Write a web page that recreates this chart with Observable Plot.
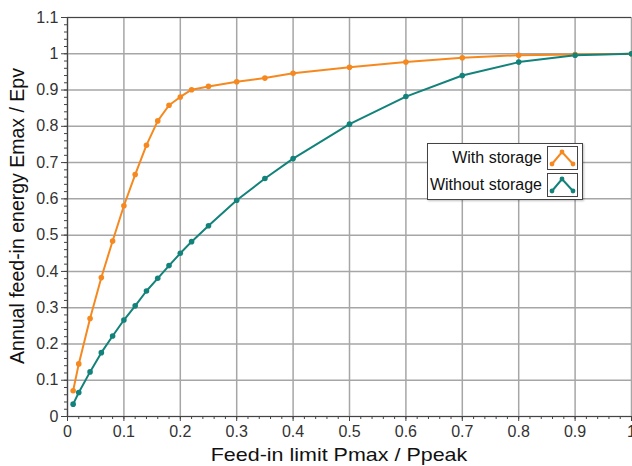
<!DOCTYPE html>
<html>
<head>
<meta charset="utf-8">
<script src="https://cdn.jsdelivr.net/npm/d3@7"></script>
<script src="https://cdn.jsdelivr.net/npm/@observablehq/plot@0.6"></script>
<style>
  html, body { margin: 0; padding: 0; background: #fff; }
  #wrap { position: relative; width: 632px; height: 466px; font-family: "Liberation Sans", Arial, sans-serif; }
  .lbl { position: absolute; color: #111; white-space: nowrap; }
  #legend { position: absolute; left: 427px; top: 143px; width: 156px; height: 57px; background: #fff;
            border: 1px solid #444; box-shadow: 1px 1px 2px rgba(0,0,0,0.25); box-sizing: border-box; }
  .row { position: absolute; right: 4px; height: 24px; display: flex; align-items: center; gap: 5px; font-size: 16px; color: #111; }
  .sw { width: 31px; height: 24px; border: 1px solid #444; box-sizing: border-box; }
</style>
</head>
<body>
<div id="wrap"></div>
<script>
const seriesNames = ["With storage", "Without storage"];
const seriesColors = ["#F5891F", "#13827A"];

const xWith = [0.01, 0.02, 0.04, 0.06, 0.08, 0.10, 0.12, 0.14, 0.16, 0.18, 0.20, 0.22, 0.25, 0.30, 0.35, 0.40, 0.50, 0.60, 0.70, 0.80, 0.90, 1.00];
const yWith = [0.071, 0.145, 0.270, 0.383, 0.484, 0.581, 0.667, 0.748, 0.815, 0.858, 0.881, 0.901, 0.910, 0.923, 0.933, 0.946, 0.963, 0.977, 0.989, 0.996, 0.998, 1.000];

const xWithout = [0.01, 0.02, 0.04, 0.06, 0.08, 0.10, 0.12, 0.14, 0.16, 0.18, 0.20, 0.22, 0.25, 0.30, 0.35, 0.40, 0.50, 0.60, 0.70, 0.80, 0.90, 1.00];
const yWithout = [0.034, 0.066, 0.123, 0.176, 0.222, 0.266, 0.305, 0.346, 0.381, 0.416, 0.450, 0.482, 0.526, 0.596, 0.656, 0.711, 0.806, 0.882, 0.940, 0.977, 0.996, 1.000];

const xTicks = [0, 0.1, 0.2, 0.3, 0.4, 0.5, 0.6, 0.7, 0.8, 0.9, 1];
const xTickLabels = ["0", "0.1", "0.2", "0.3", "0.4", "0.5", "0.6", "0.7", "0.8", "0.9", "1"];
const yTicks = [0, 0.1, 0.2, 0.3, 0.4, 0.5, 0.6, 0.7, 0.8, 0.9, 1, 1.1];
const yTickLabels = ["0", "0.1", "0.2", "0.3", "0.4", "0.5", "0.6", "0.7", "0.8", "0.9", "1", "1.1"];
const xMinor = d3.range(0, 51).map(i => i / 50);
const yMinor = d3.range(0, 56).map(i => i / 50);

const xLabel = "Feed-in limit Pmax / Ppeak";
const yLabel = "Annual feed-in energy Emax / Epv";

const data = [
  ...xWith.map((x, i) => ({x, y: yWith[i], s: seriesNames[0]})),
  ...xWithout.map((x, i) => ({x, y: yWithout[i], s: seriesNames[1]}))
];

const fmtX = d => xTickLabels[xTicks.indexOf(d)];
const fmtY = d => yTickLabels[yTicks.indexOf(d)];

const chart = Plot.plot({
  width: 632,
  height: 466,
  marginLeft: 67,
  marginRight: 1,
  marginTop: 17,
  marginBottom: 50,
  style: {fontFamily: "Liberation Sans, Arial, sans-serif", background: "#fff"},
  x: {domain: [0, 1]},
  y: {domain: [0, 1.1]},
  color: {domain: seriesNames, range: seriesColors},
  marks: [
    Plot.gridX(xTicks, {stroke: "#a6a6a6", strokeOpacity: 1, strokeWidth: 1.5}),
    Plot.gridY(yTicks, {stroke: "#a6a6a6", strokeOpacity: 1, strokeWidth: 1.5}),
    Plot.ruleY([1.1], {stroke: "#444", strokeWidth: 1.2}),
    Plot.ruleX([0], {stroke: "#444", strokeWidth: 1.2}),
    Plot.ruleY([0], {stroke: "#444", strokeWidth: 1.2}),
    Plot.axisX(xMinor, {tickSize: 3, tickFormat: () => "", label: null, stroke: "#444"}),
    Plot.axisY(yMinor, {tickSize: 3, tickFormat: () => "", label: null, stroke: "#444"}),
    Plot.axisX(xTicks, {tickSize: 5, tickPadding: 4, tickFormat: fmtX, fontSize: 16, fill: "#333", stroke: "#444", label: null}),
    Plot.axisY(yTicks, {tickSize: 6, tickPadding: 3, tickFormat: fmtY, fontSize: 16, fill: "#333", stroke: "#444", label: null}),
    Plot.line(data, {x: "x", y: "y", stroke: "s", z: "s", strokeWidth: 2}),
    Plot.dot(data, {x: "x", y: "y", fill: "s", r: 2.8})
  ]
});

const wrap = document.getElementById("wrap");
wrap.appendChild(chart);

const xl = document.createElement("div");
xl.className = "lbl";
xl.textContent = xLabel;
xl.style.fontSize = "19px";
xl.style.left = "339px"; xl.style.top = "444px";
xl.style.transform = "translateX(-50%) scaleX(1.13)";
wrap.appendChild(xl);

const yl = document.createElement("div");
yl.className = "lbl";
yl.textContent = yLabel;
yl.style.fontSize = "19.5px";
yl.style.left = "17px"; yl.style.top = "216px";
yl.style.transform = "translate(-50%, -50%) rotate(-90deg)";
wrap.appendChild(yl);

const lg = document.createElement("div");
lg.id = "legend";
seriesNames.forEach((name, i) => {
  const row = document.createElement("div");
  row.className = "row";
  row.style.top = (2 + i * 27) + "px";
  const t = document.createElement("span");
  t.textContent = name;
  row.appendChild(t);
  const c = seriesColors[i];
  const sw = document.createElement("div");
  sw.className = "sw";
  sw.innerHTML = `<svg width="29" height="22"><polyline points="4,17 14,5 25,17" fill="none" stroke="${c}" stroke-width="2"/>` +
    `<circle cx="4" cy="17" r="2.4" fill="${c}"/><circle cx="14" cy="5" r="2.4" fill="${c}"/><circle cx="25" cy="17" r="2.4" fill="${c}"/></svg>`;
  row.appendChild(sw);
  lg.appendChild(row);
});
wrap.appendChild(lg);
</script>
</body>
</html>
